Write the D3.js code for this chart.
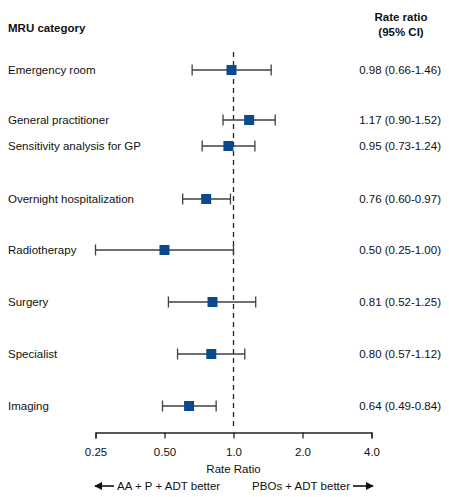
<!DOCTYPE html>
<html><head><meta charset="utf-8">
<script src="https://cdn.jsdelivr.net/npm/d3@7"></script>
<style>
body{margin:0;background:#fff;}
svg{display:block;font-family:"Liberation Sans",Arial,sans-serif;}
</style></head>
<body>
<svg id="c" width="449" height="497"></svg>
<script>
const categories = ["Emergency room","General practitioner","Sensitivity analysis for GP","Overnight hospitalization","Radiotherapy","Surgery","Specialist","Imaging"];
const rowY = [70,120,146,199,250,302,354,406];
const estimates = [0.98,1.17,0.95,0.76,0.50,0.81,0.80,0.64];
const lower = [0.66,0.90,0.73,0.60,0.25,0.52,0.57,0.49];
const upper = [1.46,1.52,1.24,0.97,1.00,1.25,1.12,0.84];
const ciLabels = ["0.98 (0.66-1.46)","1.17 (0.90-1.52)","0.95 (0.73-1.24)","0.76 (0.60-0.97)","0.50 (0.25-1.00)","0.81 (0.52-1.25)","0.80 (0.57-1.12)","0.64 (0.49-0.84)"];
const tickValues = [0.25,0.5,1,2,4];
const tickLabels = ["0.25","0.50","1.0","2.0","4.0"];

const svg = d3.select("#c");
const x = d3.scaleLog().base(2).domain([0.25,4]).range([95.5,371.5]);
const fs = 11.5;
const blue = "#0b4a8f";
const grey = "#404040";

// headers
svg.append("text").attr("x",8).attr("y",32).attr("font-size",fs).attr("font-weight","bold").attr("fill","#111").text("MRU category");
svg.append("text").attr("x",401).attr("y",21).attr("text-anchor","middle").attr("font-size",fs).attr("font-weight","bold").attr("fill","#111").text("Rate ratio");
svg.append("text").attr("x",401).attr("y",36).attr("text-anchor","middle").attr("font-size",fs).attr("font-weight","bold").attr("fill","#111").text("(95% CI)");

// reference line
svg.append("line").attr("x1",x(1)).attr("x2",x(1)).attr("y1",52).attr("y2",430)
  .attr("stroke","#222").attr("stroke-width",1.3).attr("stroke-dasharray","5,4");

const rows = categories.map((c,i)=>({c,y:rowY[i],e:estimates[i],lo:lower[i],hi:upper[i],lab:ciLabels[i]}));
const g = svg.selectAll("g.row").data(rows).join("g").attr("class","row");
g.append("text").attr("x",8).attr("y",d=>d.y).attr("dy","0.35em").attr("font-size",fs).attr("fill","#111").text(d=>d.c);
g.append("text").attr("x",441).attr("y",d=>d.y).attr("dy","0.35em").attr("text-anchor","end").attr("font-size",fs).attr("fill","#111").text(d=>d.lab);
g.append("line").attr("x1",d=>x(d.lo)).attr("x2",d=>x(d.hi)).attr("y1",d=>d.y).attr("y2",d=>d.y).attr("stroke",grey).attr("stroke-width",1.3);
g.append("line").attr("x1",d=>x(d.lo)).attr("x2",d=>x(d.lo)).attr("y1",d=>d.y-5.5).attr("y2",d=>d.y+5.5).attr("stroke",grey).attr("stroke-width",1.3);
g.append("line").attr("x1",d=>x(d.hi)).attr("x2",d=>x(d.hi)).attr("y1",d=>d.y-5.5).attr("y2",d=>d.y+5.5).attr("stroke",grey).attr("stroke-width",1.3);
g.append("rect").attr("x",d=>x(d.e)-5).attr("y",d=>d.y-5).attr("width",10).attr("height",10).attr("fill",blue);

// axis
const ax = svg.append("g").attr("transform","translate(0,432.5)")
  .call(d3.axisBottom(x).tickValues(tickValues).tickFormat((d,i)=>tickLabels[i]).tickSize(6).tickSizeOuter(6).tickPadding(9));
ax.select(".domain").attr("stroke","#222").attr("stroke-width",1.3);
ax.selectAll(".tick line").attr("stroke","#222").attr("stroke-width",1.3);
ax.selectAll(".tick text").attr("font-size",fs).attr("fill","#111").attr("font-family","Liberation Sans, Arial, sans-serif");

svg.append("text").attr("x",x(1)).attr("y",473).attr("text-anchor","middle").attr("font-size",fs).attr("fill","#111").text("Rate Ratio");

// direction arrows
svg.append("defs").append("marker").attr("id","ah").attr("viewBox","0 0 10 10").attr("refX",9).attr("refY",5)
  .attr("markerWidth",8).attr("markerHeight",8).attr("markerUnits","userSpaceOnUse").attr("orient","auto")
  .append("path").attr("d","M0,0L10,5L0,10Z").attr("fill","#111");
svg.append("line").attr("x1",114).attr("x2",95).attr("y1",486).attr("y2",486).attr("stroke","#111").attr("stroke-width",1.6).attr("marker-end","url(#ah)");
svg.append("text").attr("x",117).attr("y",486).attr("dy","0.35em").attr("font-size",fs).attr("fill","#111").text("AA + P + ADT better");
svg.append("text").attr("x",350).attr("y",486).attr("dy","0.35em").attr("text-anchor","end").attr("font-size",fs).attr("fill","#111").text("PBOs + ADT better");
svg.append("line").attr("x1",353).attr("x2",373).attr("y1",486).attr("y2",486).attr("stroke","#111").attr("stroke-width",1.6).attr("marker-end","url(#ah)");
</script>
</body></html>
